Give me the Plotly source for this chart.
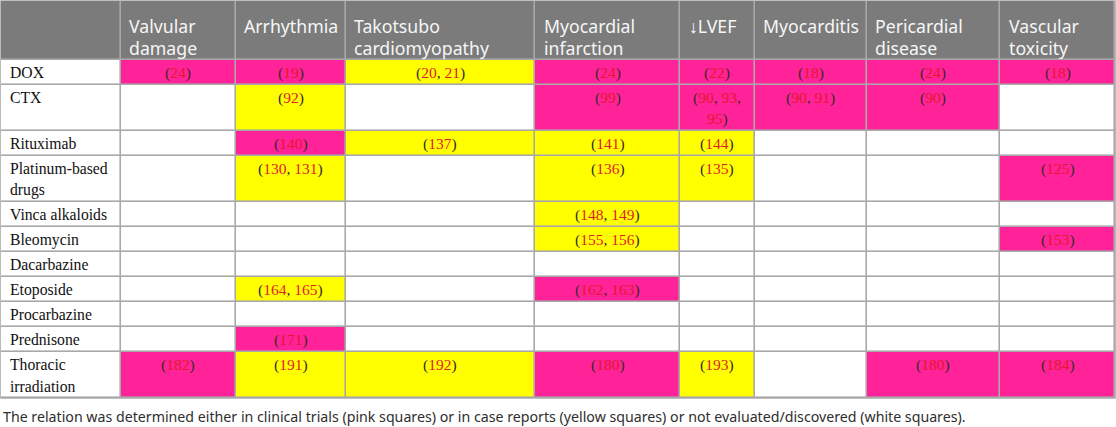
import re
import plotly.graph_objects as go

# Table content
effects = ["Valvular<br>damage", "Arrhythmia", "Takotsubo<br>cardiomyopathy",
           "Myocardial<br>infarction", "↓LVEF", "Myocarditis",
           "Pericardial<br>disease", "Vascular<br>toxicity"]
drugs = ["DOX", "CTX", "Rituximab", "Platinum-based<br>drugs", "Vinca alkaloids",
         "Bleomycin", "Dacarbazine", "Etoposide", "Procarbazine", "Prednisone",
         "Thoracic<br>irradiation"]

# evidence: "P" = clinical trials (pink), "Y" = case reports (yellow), "" = none (white)
evidence = [
    ["P", "P", "Y", "P", "P", "P", "P", "P"],
    ["", "Y", "", "P", "P", "P", "P", ""],
    ["", "P", "Y", "Y", "Y", "", "", ""],
    ["", "Y", "", "Y", "Y", "", "", "P"],
    ["", "", "", "Y", "", "", "", ""],
    ["", "", "", "Y", "", "", "", "P"],
    ["", "", "", "", "", "", "", ""],
    ["", "Y", "", "P", "", "", "", ""],
    ["", "", "", "", "", "", "", ""],
    ["", "P", "", "", "", "", "", ""],
    ["P", "Y", "Y", "P", "Y", "", "P", "P"],
]

refs = [
    ["24", "19", "20, 21", "24", "22", "18", "24", "18"],
    ["", "92", "", "99", "90, 93,<br>95", "90, 91", "90", ""],
    ["", "140", "137", "141", "144", "", "", ""],
    ["", "130, 131", "", "136", "135", "", "", "125"],
    ["", "", "", "148, 149", "", "", "", ""],
    ["", "", "", "155, 156", "", "", "", "153"],
    ["", "", "", "", "", "", "", ""],
    ["", "164, 165", "", "162, 163", "", "", "", ""],
    ["", "", "", "", "", "", "", ""],
    ["", "171", "", "", "", "", "", ""],
    ["182", "191", "192", "180", "193", "", "180", "184"],
]

caption = ("The relation was determined either in clinical trials (pink squares) "
           "or in case reports (yellow squares) or not evaluated/discovered (white squares).")

# layout
col_edges = [1, 120.7, 235.7, 345.7, 535, 680, 754.6, 866.7, 1000, 1115]
header_h = 59
line_h = 21.5
colors = {"": 0, "P": 1, "Y": 2}
pink, yellow, head_gray, grid_gray = "#FF2298", "#FFFF00", "#7B7B7B", "#A8A8A8"
ref_color, paren_color = "#E3192B", "#3A2A2A"


def n_lines(s):
    return s.count("<br>") + 1


row_edges = [1, 1 + header_h]
for i, d in enumerate(drugs):
    n = max([n_lines(d)] + [n_lines(r) for r in refs[i]])
    row_edges.append(row_edges[-1] + 25 + 21 * (n - 1))

# z codes: 3 = header, 0 = white, 1 = pink, 2 = yellow
z = [[3] * (len(effects) + 1)]
for i in range(len(drugs)):
    z.append([0] + [colors[e] for e in evidence[i]])

fig = go.Figure()
fig.add_shape(type="rect", x0=0.2, x1=1115.8, y0=0.2, y1=row_edges[-1] + 0.8,
              xref="x", yref="y", fillcolor=grid_gray, line_width=0, layer="below")
fig.add_trace(go.Heatmap(
    x=col_edges, y=row_edges, z=z, zmin=0, zmax=3,
    colorscale=[[0, "#FFFFFF"], [1 / 3, pink], [2 / 3, yellow], [1, head_gray]],
    xgap=1.6, ygap=1.6, showscale=False, hoverinfo="skip",
))


def color_refs(s):
    s = re.sub(r"(\d+)", r"<span style='color:%s'>\1</span>" % ref_color, s)
    return s


ann = []
# headers
for j, h in enumerate(effects):
    for k, line in enumerate(h.split("<br>")):
        ann.append(dict(x=col_edges[j + 1] + 6.5, y=row_edges[0] + 24.5 + k * 22.5,
                        text=line, xanchor="left", yanchor="middle", showarrow=False,
                        font=dict(family="Noto Sans", size=17.7, color="#F6F6F6")))
# row labels and cells
for i, d in enumerate(drugs):
    top = row_edges[i + 1]
    for k, line in enumerate(d.split("<br>")):
        ann.append(dict(x=col_edges[0] + 7.3, y=top + 12.8 + k * line_h, text=line,
                        xanchor="left", yanchor="middle", showarrow=False,
                        font=dict(family="Liberation Serif", size=15.7, color="#111111")))
    for j, r in enumerate(refs[i]):
        if not r:
            continue
        lines = r.split("<br>")
        for k, line in enumerate(lines):
            t = color_refs(line)
            if k == 0:
                t = "(" + t
            if k == len(lines) - 1:
                t = t + ")"
            ann.append(dict(x=(col_edges[j + 1] + col_edges[j + 2]) / 2,
                            y=top + 12.8 + k * line_h, text=t,
                            xanchor="center", yanchor="middle", showarrow=False,
                            font=dict(family="Liberation Serif", size=15.5, color=paren_color)))

ann.append(dict(x=1, y=416.5, text=caption, xanchor="left", yanchor="middle",
                showarrow=False, font=dict(family="Noto Sans", size=14.2, color="#2E2E2E")))

fig.update_layout(
    width=1116, height=427,
    margin=dict(l=0, r=0, t=0, b=0),
    paper_bgcolor="white", plot_bgcolor="white",
    xaxis=dict(range=[0, 1116], visible=False, fixedrange=True),
    yaxis=dict(range=[427, 0], visible=False, fixedrange=True),
    annotations=ann,
    showlegend=False,
)

# drop the default page margin so the table sits at the top-left corner
fig.write_html("out.html", config={"displayModeBar": False},
               post_script="document.body.style.margin='0';")
